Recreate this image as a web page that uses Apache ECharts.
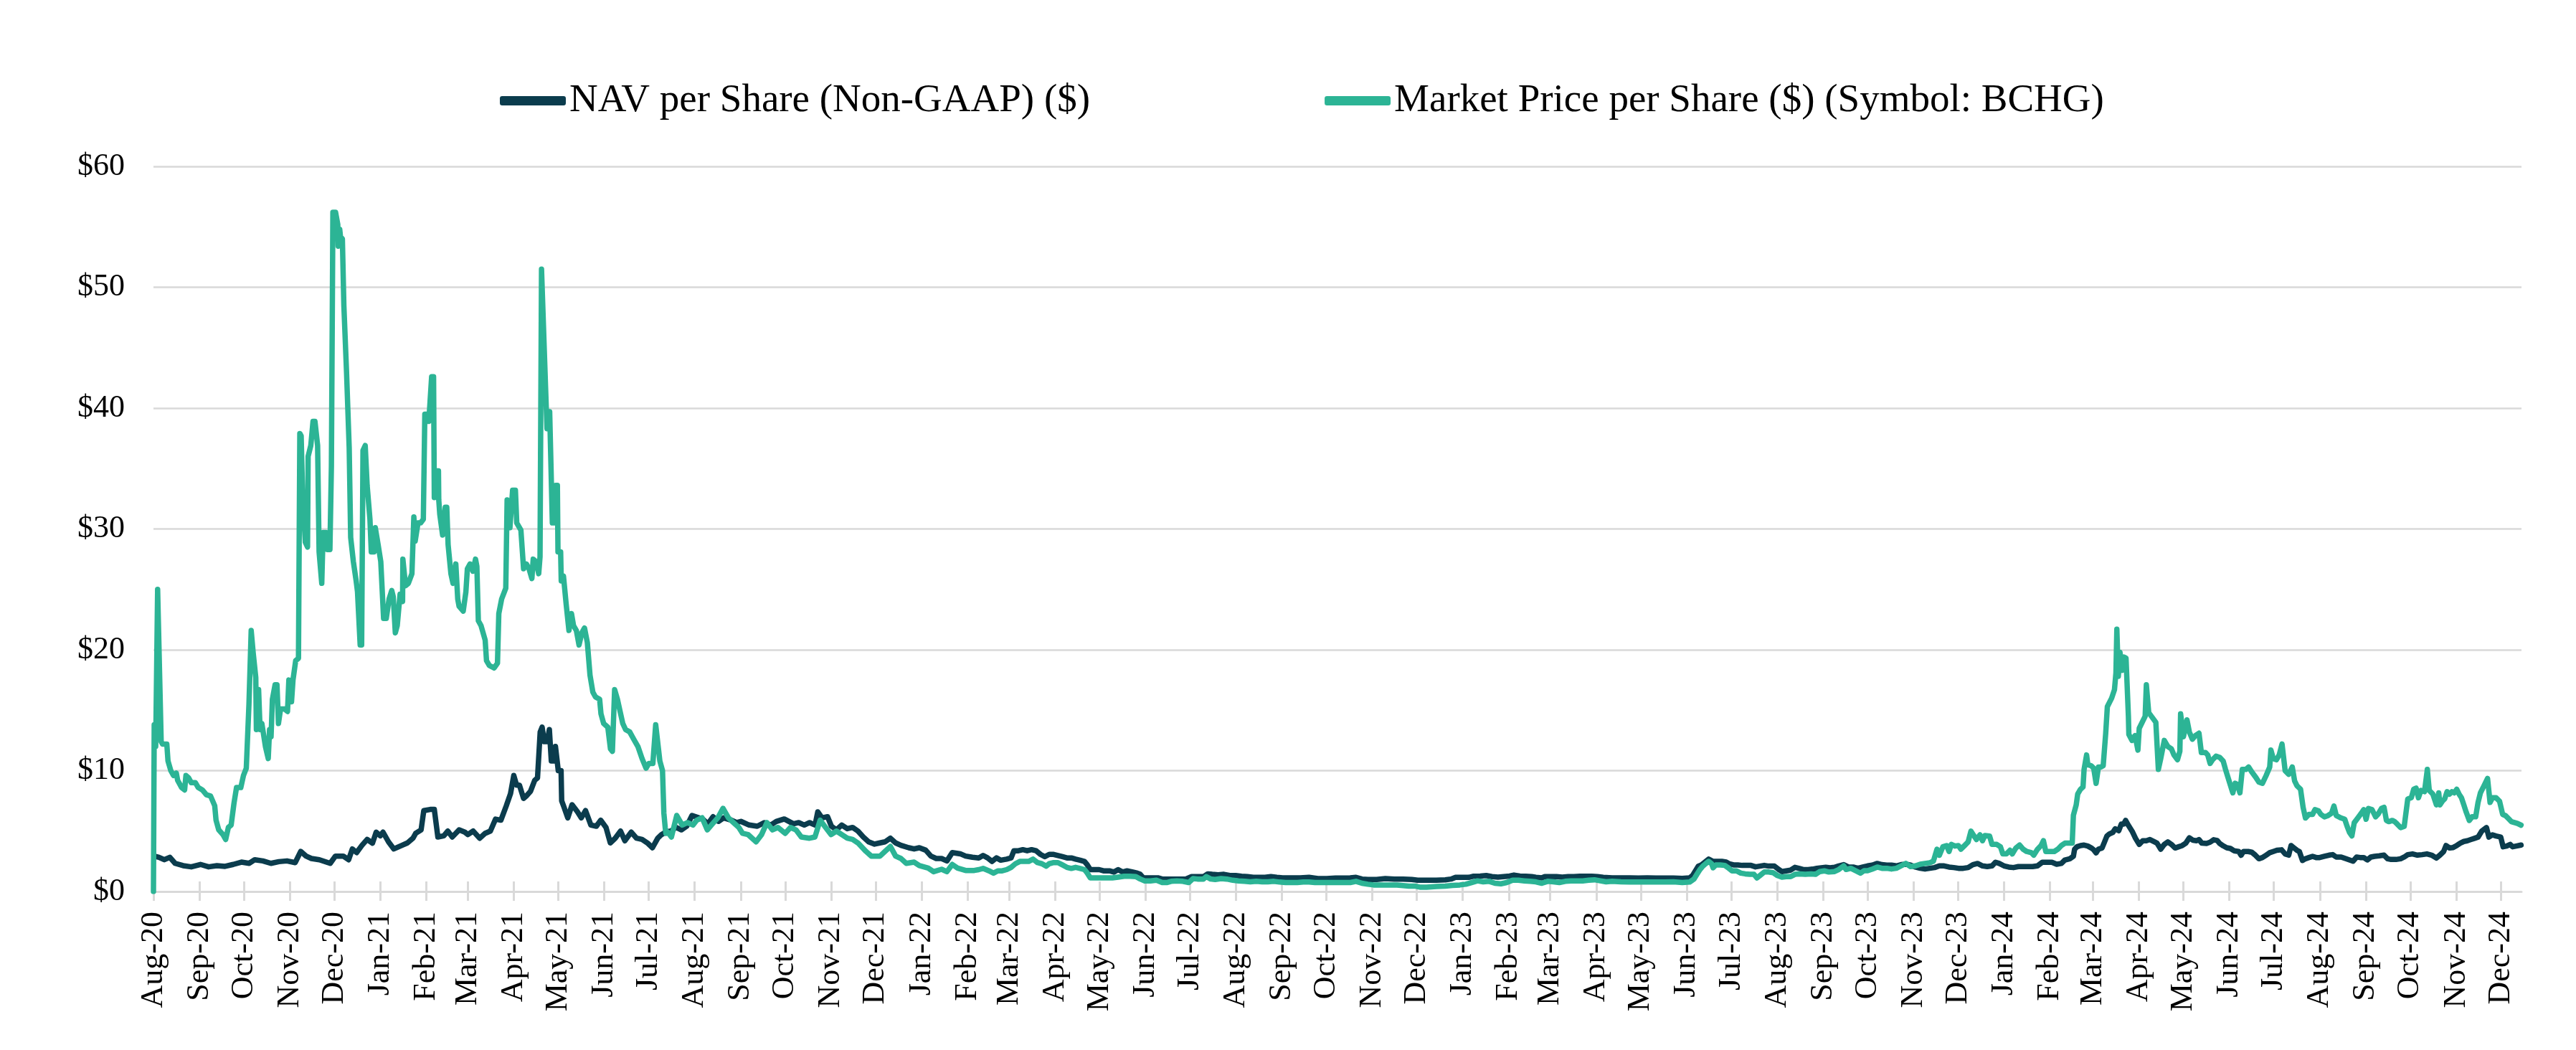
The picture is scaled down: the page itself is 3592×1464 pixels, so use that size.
<!DOCTYPE html>
<html><head><meta charset="utf-8">
<script src="https://cdn.jsdelivr.net/npm/echarts@6/dist/echarts.min.js"></script>
<style>html,body{margin:0;padding:0;background:#fff}#c{width:3592px;height:1464px}</style>
</head><body><div id="c"></div>
<script>
// ---- data (x = days since 2020-08-01, y = $ per share) ----
const seriesNames = ['NAV per Share (Non-GAAP) ($)', 'Market Price per Share ($) (Symbol: BCHG)'];
const startDate = '2020-08-01';
const endDay = 1597;
const tickLabels = ['Aug-20','Sep-20','Oct-20','Nov-20','Dec-20',
 'Jan-21','Feb-21','Mar-21','Apr-21','May-21','Jun-21','Jul-21','Aug-21','Sep-21','Oct-21','Nov-21','Dec-21',
 'Jan-22','Feb-22','Mar-22','Apr-22','May-22','Jun-22','Jul-22','Aug-22','Sep-22','Oct-22','Nov-22','Dec-22',
 'Jan-23','Feb-23','Mar-23','Apr-23','May-23','Jun-23','Jul-23','Aug-23','Sep-23','Oct-23','Nov-23','Dec-23',
 'Jan-24','Feb-24','Mar-24','Apr-24','May-24','Jun-24','Jul-24','Aug-24','Sep-24','Oct-24','Nov-24','Dec-24'];
const yMin = 0, yMax = 60, yStep = 10;

const navPoints = [[0.5,2.93],[3.7,2.83],[7.3,2.63],[11,2.83],[14.6,2.33],[20,2.14],[25.5,2.04],[31.7,2.24],[37.2,2.04],[42.8,2.14],[48.3,2.08],[53.8,2.24],[59.3,2.43],[64.6,2.33],[68.3,2.63],[73.8,2.53],[79.2,2.33],[84.6,2.47],[90,2.53],[95.6,2.39],[99.3,3.32],[102.9,2.93],[106.5,2.73],[111.9,2.63],[119.2,2.33],[122.7,2.93],[128,2.93],[131.6,2.63],[134.1,3.52],[137,3.22],[140.6,3.82],[144.1,4.31],[147.7,4.0],[150.2,4.91],[153,4.61],[154.8,4.91],[158.5,4.11],[162.1,3.52],[167.6,3.82],[171.3,4.02],[175,4.41],[176.8,4.81],[180.5,5.1],[182.3,6.69],[186.6,6.79],[189.4,6.79],[191.8,4.51],[195.8,4.61],[198.5,5.0],[201.5,4.51],[206.1,5.1],[210,4.91],[212,4.71],[215.6,5.0],[220,4.41],[223.6,4.81],[227.2,5.0],[230.7,5.99],[234.3,5.9],[237.9,7.08],[240.8,8.1],[243,9.6],[244.9,8.8],[246.8,8.8],[249.6,7.7],[251.4,7.9],[254.3,8.3],[257.1,9.2],[259,9.4],[260.8,13.2],[262.1,13.6],[263.6,12.4],[265.5,12.4],[267,13.4],[268.3,10.8],[270.2,10.8],[271.1,12.0],[273,10.0],[274.9,10.0],[275.3,7.5],[276.8,7.0],[279.4,6.09],[282.3,7.18],[285.9,6.6],[288.5,6.09],[291.4,6.69],[295,5.5],[298.7,5.4],[301.6,5.9],[305.2,5.3],[308.1,4.02],[311.4,4.41],[315,5.0],[317.9,4.2],[322.2,4.91],[325.8,4.41],[329.5,4.31],[333.1,4.02],[336.5,3.62],[340.1,4.41],[342.6,4.71],[345.4,4.91],[348.9,5.0],[352.5,5.3],[356,5.1],[359.6,5.4],[363.2,6.29],[367.9,6.09],[370.4,6.0],[373.9,5.6],[377.4,6.19],[381,5.8],[384.5,6.09],[389.8,5.9],[393.4,5.7],[396.2,5.8],[401.7,5.5],[407.2,5.4],[411.9,5.7],[416.3,5.5],[420,5.79],[425.4,6.0],[431.6,5.6],[435.2,5.7],[438.9,5.5],[442.5,5.7],[446.2,5.5],[448,6.59],[450.9,6.09],[454.6,6.19],[457.2,5.4],[460.6,5.1],[464.2,5.5],[467.9,5.2],[471.5,5.3],[475.1,5.0],[478.7,4.51],[482.3,4.11],[486.3,3.92],[489.9,4.02],[493.4,4.11],[497,4.41],[500.5,4.02],[504.1,3.82],[509.4,3.62],[513,3.52],[516.5,3.62],[520.8,3.42],[524.3,2.93],[527.9,2.73],[531.5,2.73],[535.1,2.53],[538.7,3.22],[544.1,3.12],[547.7,2.93],[552.3,2.83],
[556.6,2.78],[559.5,2.98],[562.5,2.78],[565.5,2.49],[568.5,2.78],[571.4,2.59],[575.4,2.68],[578.4,2.78],[580.3,3.37],[583.3,3.37],[586.3,3.46],[589.2,3.37],[592.2,3.46],[595.2,3.37],[598.2,3.07],[601.1,2.88],[604.1,3.07],[607.1,3.07],[610,2.98],[613,2.88],[616,2.78],[619,2.78],[621.9,2.68],[624.9,2.59],[627.9,2.49],[629.8,2.2],[631.8,1.81],[634.8,1.81],[637.8,1.81],[640.7,1.71],[644.7,1.71],[647.7,1.61],[650.6,1.81],[653.6,1.61],[656.6,1.71],[660.5,1.61],[663.5,1.52],[665.5,1.42],[667.5,1.13],[670.4,1.13],[674.4,1.13],[677.4,1.13],[680.3,1.03],[684.3,1.03],[688.3,1.03],[692.2,1.03],[696.2,1.03],[700.1,1.23],[704.1,1.23],[708.1,1.23],[711,1.46],[714,1.42],[718,1.38],[721.9,1.42],[725.9,1.32],[729.8,1.32],[733.8,1.26],[737.8,1.23],[741.7,1.17],[745.7,1.17],[749.6,1.17],[753.6,1.23],[757.6,1.17],[761.5,1.13],[767.5,1.13],[773.4,1.13],[779.3,1.17],[785.3,1.07],[791.2,1.07],[797.2,1.11],[803.1,1.11],[807.1,1.13],[811,1.17],[815,1.03],[819,0.99],[824.9,0.99],[830.8,1.07],[836.8,1.03],[842.7,1.03],[848.6,0.99],[852.6,0.93],[858.6,0.93],
[865.2,0.93],[871.2,0.97],[875.1,1.03],[878.1,1.17],[883,1.17],[887,1.17],[889.9,1.26],[894.8,1.28],[898.8,1.32],[902.7,1.23],[906.7,1.19],[910.6,1.23],[914.6,1.28],[917.5,1.36],[921.5,1.28],[925.4,1.26],[929.4,1.23],[932.3,1.17],[936.3,1.13],[938.3,1.23],[942.2,1.23],[946.2,1.23],[950.1,1.19],[954.1,1.23],[958,1.23],[962,1.26],[965.9,1.26],[969.9,1.26],[973.8,1.23],[977.7,1.17],[983.7,1.13],[989.6,1.13],[995.5,1.13],[1001.4,1.11],[1007.4,1.13],[1013.3,1.11],[1019.2,1.11],[1025.1,1.11],[1031,1.09],[1036,1.13],[1038,1.32],[1039.9,1.71],[1041.9,2.1],[1043.9,2.2],[1045.9,2.39],[1048.8,2.68],[1051.8,2.49],[1054.7,2.49],[1057.7,2.49],[1060.7,2.43],[1062.6,2.30],[1065.6,2.2],[1068.5,2.2],[1071.5,2.16],[1074.5,2.16],[1077.4,2.16],[1080.4,2.04],[1083.4,2.1],[1086.3,2.16],[1089.3,2.1],[1093.2,2.1],[1096.2,1.81],[1098.2,1.65],[1101.1,1.71],[1104.1,1.77],[1107,2.0],[1110,1.91],[1113,1.81],[1115.9,1.81],[1118.9,1.85],[1121.8,1.91],[1124.8,1.96],[1127.8,2.0],[1130.7,1.96],[1133.7,2.0],
[1136.6,2.12],[1139.9,2.22],[1143.1,2.02],[1146.3,2.02],[1149.5,1.92],[1152.8,2.02],[1156,2.12],[1159.2,2.18],[1162.5,2.32],[1165.7,2.22],[1168.9,2.18],[1172.1,2.18],[1175.4,2.12],[1178.6,2.22],[1181.8,2.26],[1185,2.18],[1188.3,2.02],[1191.5,1.92],[1194.7,1.86],[1198,1.92],[1201.2,1.98],[1204.4,2.12],[1207.6,2.12],[1210.9,2.02],[1214.1,1.98],[1217.3,1.92],[1220.5,1.92],[1223.8,1.98],[1227,2.22],[1230.2,2.32],[1233.5,2.12],[1236.7,2.06],[1239.9,2.12],[1242.3,2.42],[1244.8,2.32],[1248,2.12],[1251.2,2.02],[1254.4,1.98],[1257.7,2.06],[1262.5,2.06],[1267.3,2.06],[1270.6,2.12],[1273.8,2.42],[1277,2.42],[1280.3,2.42],[1283.5,2.26],[1286.7,2.32],[1289.1,2.61],[1292.4,2.71],[1294.8,2.91],[1295.6,3.5],[1297.2,3.7],[1299.6,3.80],[1302,3.84],[1304.5,3.76],[1306.9,3.60],[1308.5,3.45],[1310.1,3.20],[1311.7,3.50],[1314.1,3.60],[1315.8,4.1],[1317.4,4.59],[1319,4.75],[1321.4,4.89],[1323,5.19],[1325.4,5.03],[1327.1,5.58],[1328.7,5.58],[1330,5.88],[1331.9,5.47],[1334.4,4.99],[1336.7,4.40],[1339.2,3.90],[1341.6,4.20],[1344,4.20],[1346.4,4.30],[1349.6,4.10],[1351.2,4.0],[1353.7,3.50],[1356.1,3.90],[1358.5,4.10],[1360.9,3.90],[1363.4,3.60],[1365.8,3.70],[1368.2,3.80],[1370.6,4.0],[1373,4.44],[1375.5,4.24],[1377.9,4.20],[1379.5,4.30],[1381.4,4.0],[1384.6,3.98],
[1387,4.08],[1389.4,4.28],[1391.8,4.22],[1393.4,3.98],[1395.8,3.78],[1398.2,3.62],[1400.7,3.56],[1403.1,3.37],[1406.3,3.31],[1407.9,3.0],[1409.5,3.31],[1412.7,3.31],[1415.1,3.25],[1417.5,3.01],[1419.9,2.71],[1422.3,2.81],[1424.8,3.01],[1427.2,3.21],[1429.6,3.31],[1432,3.41],[1435.2,3.45],[1437.6,3.11],[1440,3.01],[1441.6,3.80],[1443.2,3.64],[1445.6,3.41],[1447.2,3.31],[1449.3,2.57],[1451.3,2.71],[1453.7,2.81],[1456.1,2.91],[1458.5,2.81],[1460.9,2.81],[1464.1,2.91],[1467.3,3.01],[1469.7,3.05],[1472.1,2.85],[1475.4,2.85],[1478.6,2.71],[1481,2.61],[1483.4,2.51],[1485.8,2.85],[1488.2,2.81],[1490.6,2.81],[1493,2.61],[1495.4,2.85],[1497.9,2.91],[1501.1,2.95],[1504.3,3.01],[1506.7,2.71],[1509.1,2.65],[1512.3,2.65],[1515.5,2.71],[1517.9,2.85],[1520.3,3.05],[1523.5,3.11],[1526.8,3.01],[1530,3.05],[1533.2,3.11],[1536.4,3.01],[1539.6,2.77],[1542,3.01],[1544.5,3.31],[1546.1,3.80],[1548.5,3.60],[1550.9,3.64],[1553.3,3.80],[1555.7,4.0],[1558.1,4.14],[1560.5,4.20],[1562.9,4.30],[1565.3,4.40],[1567.7,4.50],[1570.2,5.0],[1573.4,5.29],[1575,4.50],[1577.4,4.69],[1579.8,4.59],[1583,4.50],[1584.6,3.70],[1587,3.76],[1589.4,3.90],[1591,3.70],[1593.5,3.76],[1596.7,3.84]];

const mktPoints = [[0,0],[0.5,13.8],[1.5,12.0],[2.8,25.0],[3.3,25.0],[5.2,12.4],[6.1,12.2],[9,12.2],[9.8,10.8],[11.7,10.0],[13.5,9.6],[15.4,9.8],[16.3,9.2],[19,8.6],[21,8.4],[21.9,9.6],[23.7,9.4],[25.5,9.0],[28.3,9.0],[30.2,8.6],[33,8.4],[35.7,8.0],[38.5,7.9],[41.3,7.1],[42.2,5.9],[44,5.1],[46.9,4.7],[48.7,4.3],[50.5,5.3],[52.4,5.5],[54.3,7.3],[56,8.6],[58.9,8.6],[60.7,9.6],[62.6,10.2],[64.4,15.5],[65.9,21.6],[67.2,19.8],[69,17.7],[69.4,13.4],[70.9,16.7],[71.9,13.4],[73.1,13.9],[75.5,12.0],[77.4,11.0],[78.3,13.4],[79.3,12.8],[80.2,15.9],[82,17.1],[83.3,17.1],[84.3,13.9],[85.7,15.1],[88.5,15.1],[90.4,14.9],[91.3,17.5],[93.1,15.7],[94.1,17.5],[95.9,19.1],[97.8,19.3],[98.7,37.9],[99.6,37.7],[100.6,32.8],[102.4,28.9],[103.9,28.5],[104.3,36.0],[106.1,36.9],[107.6,38.9],[108.9,38.9],[110.7,36.9],[111.7,28.1],[113.5,25.5],[114.4,29.7],[116.3,29.7],[117.2,28.3],[119,28.3],[120,35.2],[121,56.2],[122.8,56.2],[124.3,55.2],[124.6,53.4],[125.6,54.8],[126.1,54.2],[127.4,54.0],[128.4,48.5],[130.2,43.0],[132,36.7],[133,29.3],[134.8,27.3],[136.7,25.7],[137.6,24.8],[139.4,20.4],[140.4,20.4],[141.3,36.5],[142.8,36.9],[144.1,33.6],[146,30.8],[146.9,28.1],[148.7,28.1],[149.6,30.1],[151.5,28.7],[153.3,27.3],[155.2,22.6],[157,22.6],[158.9,24.2],[160.7,24.9],[161.7,24.4],[163.1,21.4],[164.4,22.0],[166.3,24.6],[168,24.0],[168.2,27.5],[170,25.3],[171.9,25.5],[174.3,26.3],[175.6,31.0],[176.5,29.0],[178.4,30.5],[180.2,30.5],[182,30.8],[183,39.5],[184.8,39.5],[185.7,38.9],[187.6,42.6],[188.9,42.6],[189.4,32.6],[190.4,34.8],[192.2,34.8],[192.4,32.4],[193.1,31.2],[195,29.5],[196.8,31.8],[197.8,31.8],[198.7,28.7],[200.6,26.3],[202,25.5],[203.9,27.1],[205.2,24.2],[206.1,23.6],[208.9,23.2],[210.7,24.8],[211.7,26.7],[213.5,27.1],[215.4,26.5],[217.2,27.5],[218.1,26.9],[219.1,22.4],[220.9,22.0],[223.7,20.8],[224.6,19.1],[226.5,18.7],[229.8,18.5],[232,18.9],[232.9,23.0],[234.8,24.2],[237.6,25.1],[238.5,32.4],[240.4,30.1],[242.2,33.2],[244.1,33.2],[245,30.5],[247.8,29.9],[249.6,26.7],[251.5,27.1],[253.3,26.7],[255.2,25.9],[256.1,27.5],[258,27.3],[259.8,26.3],[260.7,27.7],[261.7,51.5],[262.6,51.5],[264.4,41.8],[265.4,38.3],[267.2,39.7],[269,30.5],[270.9,30.5],[271.3,33.6],[272.4,33.6],[272.8,28.1],[274.6,28.1],[275,25.7],[276.5,26.1],[278.3,23.8],[280.2,21.6],[281.9,23.0],[283.3,22.0],[285.2,21.6],[287,20.4],[288.9,21.4],[290.7,21.8],[292.6,20.6],[294.4,17.9],[296.3,16.5],[298.1,16.1],[300.9,15.9],[301.8,14.7],[303.6,13.9],[306.4,13.6],[308.2,11.8],[309.5,11.6],[311,16.7],[312.9,15.9],[314.7,14.9],[316.5,13.9],[318.4,13.4],[321.2,13.2],[323.9,12.6],[326.7,12.0],[329.5,11.0],[332.2,10.2],[334.1,10.6],[336.8,10.6],[338.7,13.8],[341.5,10.8],[343.3,10.0],[344.2,6.5],[345.1,5.3],[345.6,4.81],[347,4.9],[349.3,4.51],[352.9,6.29],[356.6,5.5],[360.2,5.7],[363.9,5.5],[366.4,5.9],[370,6.1],[373.5,5.1],[377,5.6],[380.6,6.1],[384.1,6.88],[387.7,6.1],[391.2,5.7],[394.8,5.3],[397.3,4.81],[401,4.71],[406.4,4.11],[410.1,4.71],[413.7,5.7],[417.4,5.1],[421.1,5.3],[426,4.81],[429.6,5.3],[433.3,5.1],[436.9,4.51],[442.4,4.41],[446.1,4.51],[449.6,5.9],[453.3,5.3],[457,4.71],[460.6,5.0],[464.2,4.71],[467.9,4.41],[471.5,4.31],[475.1,4.02],[480.5,3.32],[484.1,2.93],[490,2.93],[493.4,3.32],[497,3.72],[500.5,2.93],[504.1,2.73],[507.7,2.33],[513,2.43],[516.5,2.14],[522.5,1.94],[526.1,1.64],[531.5,1.84],[535.1,1.64],[538.7,2.24],[542.3,1.94],[547.7,1.74],[553.5,1.74],
[556.6,1.81],[559.5,1.91],[563.5,1.71],[566.5,1.52],[569.4,1.71],[572.4,1.71],[575.4,1.81],[578.4,2.0],[581.3,2.3],[584.3,2.49],[587.3,2.49],[590.2,2.49],[593.2,2.68],[596.2,2.39],[599.1,2.3],[602.1,2.1],[604.1,2.3],[607.1,2.39],[610,2.39],[613,2.2],[616,2.0],[619,1.91],[621.9,2.0],[624.9,1.91],[627.9,1.81],[629.8,1.52],[631.8,1.13],[635.8,1.13],[639.7,1.13],[643.7,1.13],[646.7,1.13],[650.6,1.19],[654.6,1.26],[658.5,1.26],[662.5,1.23],[665.5,1.03],[668.5,0.88],[672.4,0.88],[676.4,0.93],[680.3,0.74],[683.3,0.74],[686.3,0.84],[690.2,0.88],[694.2,0.84],[698.2,0.74],[701.1,1.07],[704.1,1.03],[708.1,1.03],[710,1.23],[713,1.03],[716,0.99],[720,1.07],[723.9,1.03],[727.9,0.93],[731.8,0.88],[735.8,0.84],[739.7,0.80],[743.7,0.84],[747.7,0.80],[751.6,0.80],[755.6,0.84],[759.5,0.78],[763.5,0.74],[767.5,0.74],[771.4,0.74],[775.4,0.78],[779.3,0.78],[783.3,0.74],[787.3,0.74],[791.2,0.74],[795.2,0.74],[799.1,0.74],[803.1,0.74],[807.1,0.74],[811,0.84],[815,0.68],[819,0.60],[822.9,0.54],[826.9,0.54],[830.8,0.54],[834.8,0.54],[838.7,0.54],[842.7,0.49],[846.7,0.45],[850.6,0.45],[854.6,0.35],[858.6,0.35],
[865.2,0.41],[871.2,0.45],[876.1,0.51],[881,0.54],[885,0.60],[888.9,0.74],[892.9,0.88],[896.8,0.80],[900.8,0.84],[904.7,0.68],[908.7,0.64],[912.6,0.74],[916.6,0.93],[920.5,0.93],[924.5,0.88],[928.4,0.84],[932.3,0.80],[936.3,0.68],[940.2,0.84],[944.2,0.80],[948.1,0.74],[952.1,0.84],[956,0.88],[960,0.88],[963.9,0.88],[967.9,0.93],[971.8,0.97],[975.8,0.88],[979.7,0.80],[983.7,0.84],[989.6,0.80],[995.5,0.78],[1001.4,0.78],[1007.4,0.78],[1013.3,0.78],[1019.2,0.78],[1025.1,0.80],[1031,0.74],[1036,0.78],[1038.9,1.03],[1040.9,1.42],[1042.9,1.81],[1044.9,2.1],[1046.8,2.3],[1048.8,2.49],[1050.8,2.3],[1051.8,1.96],[1053.7,2.2],[1056.7,2.2],[1059.7,2.16],[1061.6,2.0],[1064.6,1.71],[1067.6,1.71],[1070.5,1.52],[1073.5,1.46],[1076.5,1.42],[1079.4,1.42],[1081.4,1.13],[1083.4,1.32],[1086.3,1.61],[1089.3,1.61],[1092.2,1.56],[1095.2,1.32],[1098.2,1.19],[1101.1,1.23],[1104.1,1.23],[1107,1.42],[1110,1.46],[1114,1.42],[1117.9,1.46],[1120.9,1.42],[1123.8,1.65],[1126.8,1.71],[1129.8,1.61],[1133.7,1.65],
[1136.6,1.82],[1139.9,2.12],[1141.5,1.82],[1144.7,1.92],[1147.9,1.72],[1151.2,1.52],[1153.6,1.72],[1156,1.72],[1159.2,1.86],[1162.5,2.02],[1165.7,1.92],[1168.9,1.92],[1172.1,1.86],[1175.4,1.92],[1178.6,2.12],[1181.8,2.32],[1185,2.06],[1188.3,2.12],[1191.5,2.26],[1194.7,2.32],[1198,2.38],[1200.4,2.51],[1202.8,3.50],[1204.4,3.0],[1206.8,3.70],[1209.3,3.80],[1210.9,3.31],[1212.5,3.90],[1214.9,3.76],[1217.3,3.80],[1218.9,3.50],[1221.4,3.80],[1223.8,4.10],[1225.7,4.99],[1227,4.75],[1229.4,4.30],[1231.8,4.69],[1233.5,4.20],[1235.1,4.63],[1238.3,4.59],[1239.9,3.90],[1243.1,3.90],[1245.6,3.70],[1247.2,3.11],[1249.6,3.11],[1252,3.41],[1253.6,3.11],[1256,3.60],[1258.5,3.84],[1260.9,3.50],[1263.3,3.31],[1266.5,3.21],[1268.1,3.01],[1270.6,3.50],[1273,3.80],[1274.6,4.20],[1276.2,3.31],[1278.6,3.31],[1281.9,3.31],[1284.3,3.50],[1286.7,3.80],[1289.1,4.0],[1292.4,4.0],[1294,4.0],[1294.8,6.30],[1295.6,6.20],[1296.7,7.17],[1297.7,8.06],[1299.6,8.46],[1301.3,8.65],[1302,10.1],[1303.7,11.3],[1304.5,10.5],[1306.9,10.4],[1308.5,10.2],[1310.1,8.95],[1311.7,10.3],[1313.3,10.3],[1314.9,10.4],[1316.6,13.1],[1317.7,15.3],[1320.6,16.0],[1322.5,16.7],[1323.5,18.1],[1324.1,21.7],[1325.1,17.8],[1326.2,19.8],[1327.9,18.3],[1329,19.4],[1330.3,19.3],[1331.9,14.5],[1332.2,13.0],[1334.3,12.5],[1336.4,12.9],[1338.3,11.7],[1339.2,13.5],[1341.6,14.1],[1343.2,14.5],[1344,17.1],[1345.6,14.8],[1348,14.4],[1350.4,14.0],[1352.1,10.1],[1353.7,11.0],[1356.1,12.5],[1358.5,12.0],[1360.9,11.8],[1362.6,11.3],[1365,10.9],[1366.6,11.6],[1367.1,14.7],[1369,12.8],[1371.4,14.2],[1373,13.2],[1375,12.6],[1377.1,12.9],[1379.5,13.1],[1381.1,11.5],[1383.8,11.5],
[1385.4,11.3],[1387,10.6],[1388.6,10.9],[1391,11.2],[1393.4,11.1],[1395.8,10.8],[1397.4,10.1],[1399.8,9.15],[1402.3,8.16],[1403.9,8.95],[1405.5,8.85],[1407.1,8.16],[1408.7,10.1],[1411.1,10.1],[1413,10.3],[1415.1,9.9],[1417.5,9.5],[1419.9,9.05],[1422.3,8.95],[1424.8,9.6],[1427.2,10.3],[1428,11.7],[1429.6,11.0],[1431.7,10.9],[1433.6,11.3],[1435.5,12.2],[1437.6,10.0],[1440,9.7],[1442.4,10.3],[1444,9.15],[1445.6,8.75],[1448,8.46],[1449.7,6.97],[1451.3,6.08],[1453.7,6.38],[1456.1,6.38],[1457.7,6.77],[1460.1,6.67],[1461.7,6.38],[1464.1,6.18],[1466.5,6.28],[1468.9,6.48],[1470.5,7.07],[1472.1,6.28],[1475.4,6.08],[1477.8,5.98],[1479.4,5.39],[1481,4.89],[1482.6,4.6],[1484.2,5.69],[1486.6,6.08],[1489,6.48],[1490.6,6.77],[1492.2,5.98],[1493.8,6.87],[1496.2,6.77],[1498.6,6.18],[1500.2,6.38],[1502.6,6.87],[1504.3,6.97],[1505.9,5.88],[1507.5,5.78],[1509.9,5.88],[1511.5,5.78],[1513.1,5.59],[1515.5,5.29],[1517.9,5.39],[1520.3,7.66],[1522.7,7.76],[1524.3,8.46],[1525.9,8.55],[1527.5,7.76],[1529.2,8.36],[1531.6,8.26],[1533.5,10.1],[1534.8,8.36],[1537.2,8.06],[1539.6,7.17],[1541.2,8.16],[1542,7.17],[1543.6,7.47],[1545.2,7.66],[1546.8,8.26],[1548.5,8.06],[1550.1,8.26],[1551.7,8.16],[1553.3,8.46],[1554.9,8.06],[1556.5,7.76],[1558.1,7.17],[1559.7,6.57],[1561.8,5.88],[1563.7,6.18],[1566.1,6.18],[1567.7,7.37],[1569.3,8.16],[1571.7,8.75],[1574.1,9.35],[1575.8,7.37],[1577.4,7.76],[1579.8,7.76],[1582.2,7.47],[1584.3,6.38],[1586.2,6.28],[1588.6,5.98],[1590.2,5.78],[1592.7,5.69],[1594.3,5.63],[1596.7,5.49]];

// ---- helpers: x axis is days since startDate; ticks sit on the first of each month ----
const DAY = 86400000;
const sd = startDate.split('-').map(Number);
const baseUTC = Date.UTC(sd[0], sd[1] - 1, sd[2]);
const MONTHS = ['Jan','Feb','Mar','Apr','May','Jun','Jul','Aug','Sep','Oct','Nov','Dec'];
const tickDays = tickLabels.map(l => {
  const p = l.split('-');
  return Math.round((Date.UTC(2000 + Number(p[1]), MONTHS.indexOf(p[0]), 1) - baseUTC) / DAY);
});
function labelFor(v) {
  let best = 0, bd = Infinity;
  for (let i = 0; i < tickDays.length; i++) {
    const dd = Math.abs(tickDays[i] - v);
    if (dd < bd) { bd = dd; best = i; }
  }
  return tickLabels[best];
}

const FONT = 'Liberation Serif';
const GRAY = '#d9d9d9';
const NAV_COLOR = '#0b3c4d';
const MKT_COLOR = '#2cb495';
const LINE_W = 7.5;

const chart = echarts.init(document.getElementById('c'), null, { renderer: 'canvas' });
chart.setOption({
  animation: false,
  backgroundColor: '#ffffff',
  textStyle: { fontFamily: FONT },
  legend: {
    left: 692, top: 108,
    icon: 'roundRect', itemWidth: 92, itemHeight: 13, itemGap: 327,
    textStyle: { fontFamily: FONT, fontSize: 55, color: '#000' },
    data: seriesNames
  },
  grid: { left: 214, right: 76, top: 232, bottom: 221 },
  xAxis: [{
    type: 'value', min: 0, max: endDay,
    axisLine: { show: true, lineStyle: { color: GRAY, width: 3 } },
    axisTick: { show: true, length: 13, lineStyle: { color: GRAY, width: 3 }, customValues: tickDays },
    axisLabel: { customValues: tickDays, rotate: 90, margin: 28, fontFamily: FONT, fontSize: 44, color: '#000',
      hideOverlap: false, showMinLabel: true, showMaxLabel: true, formatter: v => labelFor(v) },
    splitLine: { show: false }
  }, {
    type: 'value', gridIndex: 0, position: 'bottom', min: 0, max: endDay,
    axisLine: { show: false },
    axisTick: { show: true, inside: true, length: 14, lineStyle: { color: GRAY, width: 3 }, customValues: tickDays },
    axisLabel: { show: false },
    splitLine: { show: false }
  }],
  yAxis: {
    type: 'value', min: yMin, max: yMax, interval: yStep,
    axisLine: { show: false }, axisTick: { show: false },
    axisLabel: { formatter: '${value}', fontFamily: FONT, fontSize: 44, color: '#000', margin: 40 },
    splitLine: { lineStyle: { color: GRAY, width: 2.5 } }
  },
  series: [{
    name: seriesNames[0], type: 'line', xAxisIndex: 0, showSymbol: false, symbol: 'none',
    data: navPoints,
    lineStyle: { color: NAV_COLOR, width: LINE_W, cap: 'round', join: 'round' },
    itemStyle: { color: NAV_COLOR }
  }, {
    name: seriesNames[1], type: 'line', xAxisIndex: 0, showSymbol: false, symbol: 'none',
    data: mktPoints,
    lineStyle: { color: MKT_COLOR, width: LINE_W, cap: 'round', join: 'round' },
    itemStyle: { color: MKT_COLOR }
  }]
});
</script></body></html>
